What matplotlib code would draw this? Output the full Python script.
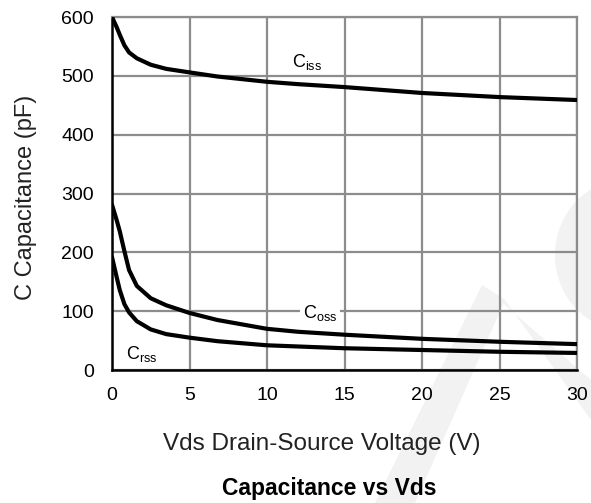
import numpy as np
import matplotlib

matplotlib.use("Agg")
import matplotlib.pyplot as plt
from matplotlib.patches import Polygon, Ellipse

plt.rcParams["font.family"] = ["Liberation Sans", "DejaVu Sans"]
plt.rcParams["mathtext.fontset"] = "custom"
plt.rcParams["mathtext.rm"] = "Liberation Sans"

# Vds (V) vs capacitance (pF)
vds = [0, 0.3, 0.5, 0.8, 1.1, 1.6, 2.5, 3.5, 5.0, 6.8, 10, 12, 15, 20, 25, 30]
ciss = [600, 583, 570, 552, 540, 530, 519, 512, 506, 499, 490, 486, 481, 471, 464, 459]
coss = [281, 255, 236, 202, 170, 143, 122, 110, 97, 85, 70, 65, 60, 53, 48, 44]
crss = [192, 158, 136, 112, 98, 83, 69, 61, 55, 49, 42, 40, 37, 34, 31, 29]

x_ticks = [0, 5, 10, 15, 20, 25, 30]
y_ticks = [0, 100, 200, 300, 400, 500, 600]

fig = plt.figure(figsize=(5.91, 5.03), dpi=100)

# faint watermark behind everything, in pixel coordinates
bg = fig.add_axes([0, 0, 1, 1], zorder=-10)
bg.set_xlim(0, 591)
bg.set_ylim(503, 0)
bg.axis("off")
wm = "#f2f2f2"
bg.add_patch(Polygon([(375, 503), (415, 503), (505, 300), (482, 285)], closed=True, color=wm, lw=0))
bg.add_patch(Polygon([(482, 285), (505, 300), (591, 420), (591, 380)], closed=True, color=wm, lw=0))
bg.add_patch(Ellipse((625, 255), 140, 150, color=wm, lw=0))

ax = fig.add_axes([0.1895, 0.2644, 0.787, 0.7016])
ax.set_facecolor("none")

ax.plot(vds, ciss, color="black", lw=3.0, solid_capstyle="round", zorder=3)
ax.plot(vds, coss, color="black", lw=3.0, solid_capstyle="round", zorder=3)
ax.plot(vds, crss, color="black", lw=3.0, solid_capstyle="round", zorder=3)

ax.text(12.6, 524, r"C$_{\rm iss}$", fontsize=13, ha="center", va="center", zorder=4)
ax.text(13.4, 97, r"C$_{\rm oss}$", fontsize=13, ha="center", va="center", zorder=4,
        bbox=dict(facecolor="white", edgecolor="none", pad=2))
ax.text(1.9, 27, r"C$_{\rm rss}$", fontsize=13, ha="center", va="center", zorder=4)

ax.set_xlim(0, 30)
ax.set_ylim(0, 600)
ax.set_xticks(x_ticks)
ax.set_yticks(y_ticks)
ax.tick_params(length=0, labelsize=14)
ax.tick_params(axis="x", pad=12)
ax.tick_params(axis="y", pad=13)
ax.grid(True, color="#8c8c8c", lw=1.6, zorder=1)
ax.set_axisbelow(True)

for side in ("top", "right"):
    ax.spines[side].set_color("#8c8c8c")
    ax.spines[side].set_linewidth(1.6)
for side in ("left", "bottom"):
    ax.spines[side].set_color("black")
    ax.spines[side].set_linewidth(1.8)

ax.set_xlabel("Vds Drain-Source Voltage (V)", fontsize=17.5, color="#222222")
ax.xaxis.set_label_coords(0.45, -0.178)
ax.set_ylabel("C Capacitance (pF)", fontsize=17, color="#222222")
ax.yaxis.set_label_coords(-0.161, 0.49)

fig.text(0.557, 0.028, "Capacitance vs Vds", fontsize=16.5, fontweight="bold",
         ha="center", va="center")

fig.savefig("out.png", dpi=100)
